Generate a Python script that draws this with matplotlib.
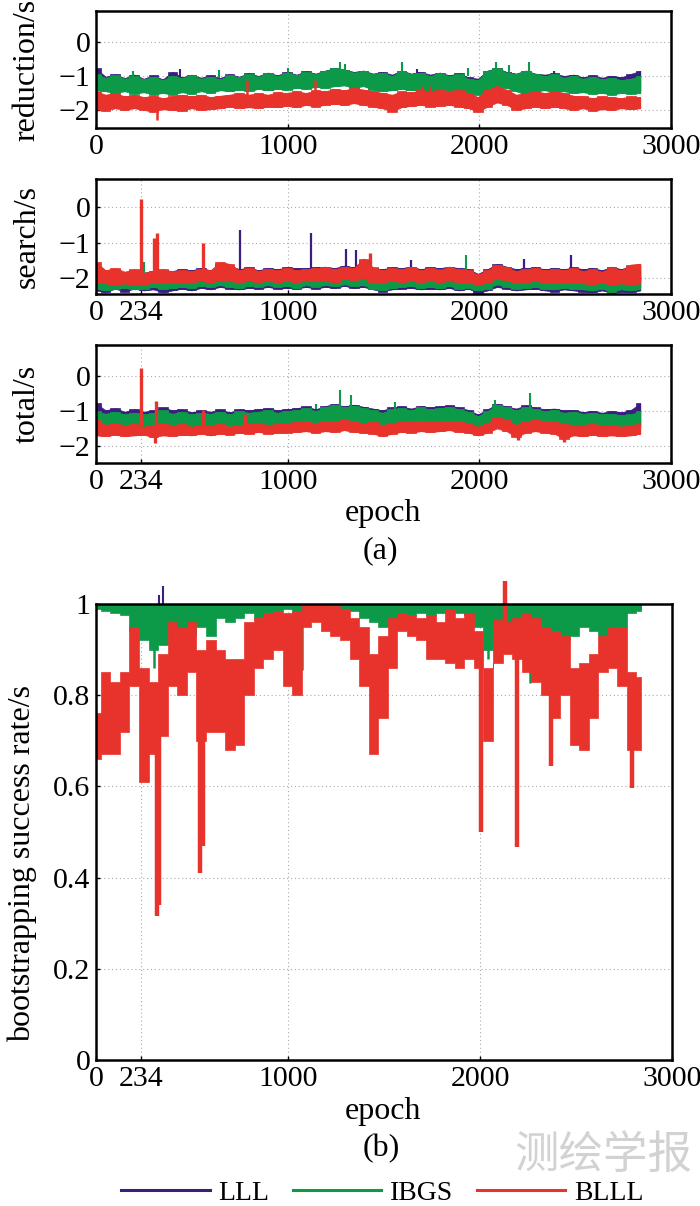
import numpy as np
import matplotlib
matplotlib.use('Agg')
import matplotlib.pyplot as plt
from matplotlib.lines import Line2D

plt.rcParams['font.family'] = ['Liberation Serif', 'DejaVu Serif']
plt.rcParams['axes.unicode_minus'] = True

# ---------------- data (log10 seconds), samples every ~50 epochs ----------------
# reduction
L1_hi = [-0.78,-1.02,-0.95,-1.06,-0.96,-1.08,-0.98,-1.1,-0.88,-1.04,
         -0.96,-1.05,-0.98,-1.06,-0.95,-1.02,-0.92,-1.0,-0.9,-0.98,
         -0.88,-0.96,-0.86,-0.93,-0.84,-0.77,-0.81,-0.88,-0.84,-0.93,
         -0.88,-0.96,-0.84,-0.93,-0.88,-0.96,-0.9,-0.98,-0.92,-1.04,
         -1.08,-0.84,-0.77,-0.88,-0.93,-0.84,-0.93,-0.96,-0.92,-1.0,
         -0.96,-1.04,-0.98,-1.05,-1.0,-1.04,-0.94,-0.85]
L1_lo = [-1.38,-1.42,-1.46,-1.42,-1.48,-1.45,-1.5,-1.46,-1.5,-1.45,
         -1.48,-1.42,-1.46,-1.4,-1.42,-1.38,-1.42,-1.36,-1.4,-1.36,
         -1.38,-1.33,-1.36,-1.3,-1.33,-1.28,-1.26,-1.33,-1.28,-1.38,
         -1.42,-1.4,-1.36,-1.4,-1.38,-1.42,-1.36,-1.4,-1.42,-1.46,
         -1.5,-1.38,-1.28,-1.33,-1.42,-1.5,-1.42,-1.4,-1.45,-1.42,
         -1.46,-1.45,-1.48,-1.46,-1.5,-1.46,-1.48,-1.46]
G1_hi = [-0.95,-1.05,-0.98,-1.08,-1.0,-1.1,-1.02,-1.12,-1.0,-1.06,
         -0.98,-1.08,-1.02,-1.1,-0.98,-1.04,-0.95,-1.02,-0.92,-1.0,
         -0.9,-0.98,-0.88,-0.95,-0.85,-0.78,-0.82,-0.9,-0.85,-0.95,
         -0.9,-1.0,-0.85,-0.95,-0.9,-1.0,-0.92,-1.0,-0.95,-1.08,
         -1.12,-0.85,-0.78,-0.9,-0.95,-0.85,-0.95,-1.0,-0.95,-1.05,
         -1.0,-1.08,-1.02,-1.1,-1.05,-1.12,-1.08,-1.0]
G1_lo = [-1.4,-1.45,-1.5,-1.45,-1.52,-1.48,-1.55,-1.5,-1.55,-1.48,
         -1.52,-1.45,-1.5,-1.42,-1.45,-1.4,-1.45,-1.38,-1.42,-1.38,
         -1.4,-1.35,-1.38,-1.32,-1.35,-1.3,-1.28,-1.35,-1.3,-1.4,
         -1.45,-1.42,-1.38,-1.42,-1.4,-1.45,-1.38,-1.42,-1.45,-1.5,
         -1.55,-1.4,-1.3,-1.35,-1.45,-1.55,-1.45,-1.42,-1.48,-1.45,
         -1.5,-1.48,-1.52,-1.5,-1.55,-1.5,-1.52,-1.5]
R1_hi = [-1.45,-1.55,-1.5,-1.6,-1.55,-1.62,-1.58,-1.65,-1.6,-1.55,
         -1.6,-1.55,-1.62,-1.58,-1.55,-1.5,-1.55,-1.5,-1.55,-1.48,
         -1.5,-1.45,-1.5,-1.42,-1.45,-1.38,-1.42,-1.35,-1.4,-1.45,
         -1.5,-1.55,-1.45,-1.48,-1.42,-1.45,-1.4,-1.45,-1.42,-1.5,
         -1.62,-1.4,-1.32,-1.4,-1.55,-1.5,-1.45,-1.5,-1.45,-1.5,
         -1.58,-1.6,-1.65,-1.6,-1.62,-1.65,-1.6,-1.62]
R1_lo = [-1.98,-2.02,-1.95,-2.0,-1.95,-2.0,-2.05,-1.98,-2.0,-2.02,
         -1.95,-2.0,-1.98,-1.95,-1.9,-1.95,-1.92,-1.95,-1.9,-1.92,
         -1.88,-1.92,-1.85,-1.9,-1.85,-1.82,-1.85,-1.8,-1.85,-1.9,
         -1.95,-2.05,-1.92,-1.88,-1.85,-1.9,-1.88,-1.85,-1.9,-1.95,
         -2.05,-1.9,-1.78,-1.85,-2.0,-1.95,-1.9,-1.95,-1.9,-1.95,
         -2.0,-1.95,-2.02,-1.98,-2.0,-1.95,-1.98,-1.95]
# reduction spikes: epoch, from, to
L1_sp_x = [440, 1677, 2390]
L1_sp_a = [-1.05, -1.0, -1.05]
L1_sp_b = [-0.79, -0.79, -0.85]
G1_sp_x = [195, 640, 1000, 1275, 1300, 1594, 1940, 2086, 2155, 2258]
G1_sp_a = [-1.05, -1.05, -0.95, -0.9, -0.9, -0.95, -1.0, -0.85, -0.9, -0.9]
G1_sp_b = [-0.84, -0.82, -0.77, -0.58, -0.65, -0.58, -0.77, -0.58, -0.68, -0.6]
R1_sp_x = [318, 788, 1145, 1700, 1740, 2090]
R1_sp_a = [-1.95, -1.55, -1.45, -1.45, -1.45, -1.4]
R1_sp_b = [-2.3, -1.12, -1.12, -1.3, -1.3, -1.28]

# search
L2_hi = [-1.7,-1.8,-1.75,-1.85,-1.78,-1.85,-1.8,-1.78,-1.8,-1.75,
         -1.78,-1.72,-1.78,-1.6,-1.65,-1.75,-1.7,-1.78,-1.72,-1.75,
         -1.7,-1.72,-1.72,-1.7,-1.68,-1.72,-1.65,-1.7,-1.5,-1.72,
         -1.75,-1.7,-1.72,-1.68,-1.75,-1.7,-1.72,-1.68,-1.72,-1.75,
         -1.88,-1.75,-1.6,-1.68,-1.75,-1.72,-1.7,-1.75,-1.72,-1.75,
         -1.7,-1.75,-1.72,-1.78,-1.68,-1.75,-1.65,-1.62]
L2_lo = [-2.35,-2.4,-2.3,-2.38,-2.3,-2.35,-2.32,-2.4,-2.35,-2.3,
         -2.35,-2.28,-2.32,-2.25,-2.3,-2.32,-2.28,-2.3,-2.25,-2.3,
         -2.28,-2.3,-2.25,-2.3,-2.25,-2.28,-2.22,-2.28,-2.25,-2.32,
         -2.38,-2.32,-2.3,-2.28,-2.32,-2.3,-2.32,-2.28,-2.35,-2.3,
         -2.42,-2.35,-2.25,-2.3,-2.35,-2.32,-2.3,-2.35,-2.38,-2.32,
         -2.35,-2.38,-2.4,-2.35,-2.42,-2.38,-2.4,-2.35]
G2_hi = [-1.85,-1.9,-1.8,-1.88,-1.82,-1.9,-1.85,-1.88,-1.8,-1.85,
         -1.82,-1.88,-1.85,-1.8,-1.85,-1.88,-1.8,-1.85,-1.82,-1.85,
         -1.8,-1.85,-1.82,-1.8,-1.85,-1.8,-1.82,-1.78,-1.8,-1.82,
         -1.85,-1.8,-1.82,-1.78,-1.82,-1.8,-1.78,-1.75,-1.8,-1.82,
         -1.95,-1.85,-1.75,-1.8,-1.85,-1.82,-1.8,-1.85,-1.8,-1.85,
         -1.82,-1.88,-1.85,-1.88,-1.82,-1.85,-1.85,-1.8]
G2_lo = [-2.3,-2.35,-2.3,-2.28,-2.32,-2.3,-2.25,-2.3,-2.28,-2.25,
         -2.28,-2.22,-2.25,-2.2,-2.25,-2.28,-2.22,-2.25,-2.2,-2.25,
         -2.22,-2.28,-2.2,-2.25,-2.2,-2.22,-2.18,-2.22,-2.2,-2.3,
         -2.35,-2.28,-2.25,-2.22,-2.28,-2.25,-2.28,-2.22,-2.3,-2.28,
         -2.35,-2.3,-2.18,-2.25,-2.3,-2.28,-2.25,-2.3,-2.32,-2.28,
         -2.3,-2.32,-2.35,-2.3,-2.38,-2.32,-2.35,-2.3]
R2_hi = [-1.55,-1.78,-1.72,-1.82,-1.75,-1.85,-1.8,-1.75,-1.82,-1.78,
         -1.8,-1.75,-1.78,-1.55,-1.6,-1.78,-1.72,-1.8,-1.75,-1.78,
         -1.72,-1.78,-1.75,-1.72,-1.7,-1.75,-1.68,-1.72,-1.45,-1.7,
         -1.78,-1.72,-1.75,-1.7,-1.78,-1.72,-1.76,-1.7,-1.75,-1.78,
         -1.9,-1.78,-1.62,-1.7,-1.8,-1.75,-1.72,-1.78,-1.74,-1.78,
         -1.72,-1.8,-1.75,-1.82,-1.7,-1.78,-1.62,-1.6]
R2_lo = [-2.1,-2.15,-2.2,-2.15,-2.2,-2.18,-2.12,-2.15,-2.1,-2.12,
         -2.1,-2.08,-2.12,-2.05,-2.08,-2.1,-2.05,-2.1,-2.08,-2.1,
         -2.08,-2.1,-2.05,-2.08,-2.05,-2.1,-2.02,-2.05,-2.0,-2.1,
         -2.12,-2.08,-2.1,-2.05,-2.1,-2.08,-2.1,-2.05,-2.1,-2.12,
         -2.2,-2.12,-2.0,-2.05,-2.12,-2.1,-2.08,-2.12,-2.15,-2.1,
         -2.12,-2.15,-2.18,-2.12,-2.2,-2.15,-2.18,-2.15]
L2_sp_x = [753, 1123, 1302, 1354, 1641, 2232, 2478]
L2_sp_a = [-1.8, -1.8, -1.75, -1.75, -1.75, -1.8, -1.75]
L2_sp_b = [-0.65, -0.72, -1.18, -1.2, -1.5, -1.45, -1.35]
G2_sp_x = [248, 1929]
G2_sp_a = [-1.85, -1.85]
G2_sp_b = [-1.55, -1.35]
R2_sp_x = [234, 305, 318, 558, 1432]
R2_sp_a = [-1.85, -1.85, -1.85, -1.85, -1.75]
R2_sp_b = [0.22, -0.87, -0.73, -1.02, -1.3]

# total
L3_hi = [-0.78,-0.98,-0.92,-1.02,-0.95,-1.02,-0.98,-0.9,-0.98,-0.95,
         -1.04,-0.98,-1.02,-0.95,-1.04,-0.95,-0.98,-0.95,-0.92,-0.98,
         -0.95,-0.92,-0.87,-0.95,-0.86,-0.8,-0.87,-0.82,-0.88,-0.93,
         -0.98,-0.9,-0.87,-0.93,-0.86,-0.9,-0.87,-0.84,-0.9,-0.97,
         -1.1,-0.95,-0.8,-0.87,-0.93,-0.84,-0.9,-0.95,-0.93,-0.98,
         -0.97,-1.03,-1.0,-1.05,-1.0,-1.04,-0.97,-0.78]
L3_lo = [-1.4,-1.42,-1.45,-1.42,-1.45,-1.42,-1.4,-1.42,-1.45,-1.42,
         -1.42,-1.4,-1.42,-1.38,-1.4,-1.38,-1.4,-1.36,-1.38,-1.36,
         -1.36,-1.33,-1.36,-1.3,-1.33,-1.28,-1.3,-1.26,-1.33,-1.4,
         -1.45,-1.38,-1.36,-1.33,-1.36,-1.33,-1.36,-1.33,-1.38,-1.42,
         -1.48,-1.4,-1.28,-1.33,-1.4,-1.36,-1.38,-1.4,-1.42,-1.4,
         -1.42,-1.4,-1.42,-1.4,-1.42,-1.4,-1.42,-1.4]
G3_hi = [-1.0,-1.08,-1.02,-1.1,-1.05,-1.1,-1.05,-0.98,-1.08,-1.02,
         -1.1,-1.05,-1.08,-1.02,-1.1,-1.0,-1.05,-1.02,-0.98,-1.05,
         -1.0,-0.98,-0.92,-1.0,-0.9,-0.82,-0.9,-0.85,-0.92,-0.98,
         -1.05,-0.95,-0.92,-0.98,-0.9,-0.95,-0.92,-0.88,-0.95,-1.02,
         -1.15,-1.0,-0.82,-0.9,-0.98,-0.88,-0.95,-1.0,-0.98,-1.05,
         -1.02,-1.08,-1.05,-1.1,-1.08,-1.12,-1.1,-1.0]
G3_lo = [-1.42,-1.45,-1.48,-1.45,-1.48,-1.45,-1.42,-1.45,-1.48,-1.45,
         -1.45,-1.42,-1.45,-1.4,-1.42,-1.4,-1.42,-1.38,-1.4,-1.38,
         -1.38,-1.35,-1.38,-1.32,-1.35,-1.3,-1.32,-1.28,-1.35,-1.42,
         -1.48,-1.4,-1.38,-1.35,-1.38,-1.35,-1.38,-1.35,-1.4,-1.45,
         -1.5,-1.42,-1.3,-1.35,-1.42,-1.38,-1.4,-1.42,-1.45,-1.42,
         -1.45,-1.42,-1.45,-1.42,-1.45,-1.42,-1.45,-1.42]
R3_hi = [-1.25,-1.4,-1.35,-1.42,-1.38,-1.45,-1.4,-1.35,-1.42,-1.38,
         -1.45,-1.4,-1.42,-1.38,-1.45,-1.4,-1.38,-1.35,-1.4,-1.38,
         -1.35,-1.32,-1.3,-1.35,-1.28,-1.3,-1.25,-1.3,-1.35,-1.32,
         -1.4,-1.35,-1.3,-1.32,-1.28,-1.32,-1.3,-1.28,-1.3,-1.35,
         -1.45,-1.35,-1.18,-1.25,-1.4,-1.3,-1.25,-1.3,-1.32,-1.38,
         -1.4,-1.42,-1.38,-1.42,-1.4,-1.45,-1.4,-1.38]
R3_lo = [-1.7,-1.72,-1.68,-1.72,-1.7,-1.68,-1.75,-1.7,-1.72,-1.68,
         -1.7,-1.65,-1.7,-1.65,-1.68,-1.62,-1.65,-1.6,-1.65,-1.62,
         -1.62,-1.6,-1.58,-1.62,-1.58,-1.6,-1.55,-1.6,-1.62,-1.65,
         -1.72,-1.65,-1.6,-1.62,-1.58,-1.6,-1.58,-1.55,-1.6,-1.62,
         -1.7,-1.62,-1.5,-1.58,-1.75,-1.62,-1.58,-1.62,-1.65,-1.8,
         -1.7,-1.72,-1.68,-1.72,-1.7,-1.72,-1.7,-1.65]
G3_sp_x = [1150, 1272, 1330, 1560, 2084, 2262]
G3_sp_a = [-0.95, -0.9, -0.9, -0.95, -0.9, -0.95]
G3_sp_b = [-0.8, -0.4, -0.55, -0.75, -0.69, -0.48]
R3_sp_x = [234, 315, 560, 776, 310, 2200, 2440]
R3_sp_a = [-1.4, -1.4, -1.4, -1.4, -1.65, -1.65, -1.65]
R3_sp_b = [0.24, -0.72, -0.97, -1.1, -1.92, -1.83, -1.9]

# bootstrapping success rate
L4_hi = [1.0]*58
L4_lo = [0.995,0.99,0.99,0.985,0.975,0.965,0.96,0.965,0.97,0.975,
         0.98,0.985,0.98,0.985,0.99,0.985,0.99,0.985,0.99,0.99,
         0.995,0.99,0.995,0.995,0.998,0.998,0.995,0.99,0.985,0.98,
         0.98,0.985,0.985,0.99,0.99,0.985,0.99,0.99,0.985,0.985,
         0.98,0.97,0.975,0.97,0.965,0.96,0.965,0.97,0.975,0.97,
         0.975,0.98,0.975,0.97,0.975,0.98,0.99,0.99]
G4_hi = [1.0]*58
G4_lo = [0.99,0.985,0.98,0.975,0.94,0.92,0.9,0.91,0.95,0.94,
         0.93,0.95,0.93,0.97,0.96,0.97,0.98,0.97,0.98,0.985,
         0.99,0.96,0.98,0.99,0.995,0.995,0.99,0.985,0.97,0.96,
         0.95,0.96,0.97,0.975,0.98,0.975,0.98,0.985,0.98,0.975,
         0.95,0.9,0.95,0.94,0.93,0.92,0.93,0.93,0.94,0.92,
         0.93,0.95,0.94,0.93,0.92,0.95,0.98,0.985]
R4_hi = [0.76,0.85,0.83,0.85,0.95,0.86,0.83,0.89,0.96,0.95,
         0.96,0.90,0.92,0.90,0.88,0.88,0.96,0.97,0.98,0.985,
         0.98,0.985,1.0,1.0,1.0,0.995,0.99,0.97,0.95,0.89,
         0.93,0.97,0.98,0.975,0.97,0.975,0.96,0.99,0.97,0.98,
         0.94,0.86,0.965,0.96,0.97,0.98,0.97,0.95,0.94,0.93,
         0.86,0.87,0.89,0.93,0.95,0.95,0.85,0.84]
R4_lo = [0.66,0.67,0.67,0.72,0.82,0.61,0.67,0.71,0.82,0.80,
         0.85,0.70,0.72,0.72,0.68,0.69,0.80,0.86,0.88,0.90,
         0.82,0.80,0.95,0.96,0.94,0.93,0.92,0.88,0.82,0.67,
         0.75,0.86,0.94,0.93,0.92,0.88,0.88,0.87,0.86,0.88,
         0.86,0.70,0.87,0.89,0.88,0.85,0.83,0.80,0.75,0.80,
         0.69,0.68,0.75,0.85,0.86,0.82,0.68,0.68]
L4_sp_x = [330, 350]
L4_sp_a = [0.98, 0.97]
L4_sp_b = [1.02, 1.04]
G4_sp_x = [300, 1075, 2043, 2262, 2700]
G4_sp_a = [0.95, 0.97, 0.95, 0.93, 0.95]
G4_sp_b = [0.86, 0.855, 0.88, 0.826, 0.9]
R4_sp_x = [318, 330, 543, 556, 2006, 2193, 2370, 2790, 2130]
R4_sp_a = [0.75, 0.75, 0.8, 0.8, 0.9, 0.9, 0.85, 0.8, 0.9]
R4_sp_b = [0.315, 0.34, 0.41, 0.47, 0.50, 0.468, 0.645, 0.596, 1.05]

series_names = ['LLL', 'IBGS', 'BLLL']
C_LLL, C_IBGS, C_BLLL = '#3b1e80', '#0d9a48', '#e8322c'
colors = [C_LLL, C_IBGS, C_BLLL]
LAST_EPOCH = 2840

# ---------------- figure ----------------
W, H = 700, 1206
fig = plt.figure(figsize=(W/100, H/100), dpi=100)

def px_axes(l, t, r, b):
    return fig.add_axes([l/W, 1-b/H, (r-l)/W, (b-t)/H])

def band(ax, lo, hi, color, z, mode='mix'):
    x = np.linspace(0, LAST_EPOCH, len(lo))
    if mode in ('mix', 'step'):
        ax.fill_between(x, lo, hi, step='mid', facecolor=color, edgecolor=color,
                        lw=0.5, zorder=z)
    if mode in ('mix', 'line'):
        ax.fill_between(x, lo, hi, facecolor=color, edgecolor=color,
                        lw=0.5, zorder=z)

def spikes(ax, xs, a, b, color, lw, z):
    ax.vlines(xs, a, b, colors=color, lw=lw, zorder=z, clip_on=False)

TICK_FS = 21.5
LAB_FS = 23

def style(ax, ylim, yticks, xticks, ylab, labx, laby=0.5):
    ax.set_xlim(0, 3000)
    ax.set_ylim(*ylim)
    ax.set_yticks(yticks)
    ax.set_xticks(xticks)
    ax.set_xticklabels([str(t) for t in xticks])
    ax.grid(True, linestyle=(0, (1, 2.5)), color='#aaaaaa', lw=0.8, zorder=0)
    ax.set_axisbelow(True)
    for s in ax.spines.values():
        s.set_linewidth(1.8)
        s.set_zorder(20)
    ax.tick_params(direction='in', length=3, width=1, labelsize=TICK_FS, pad=4)
    ax.set_ylabel(ylab, fontsize=LAB_FS)
    ax.yaxis.set_label_coords(labx, laby)

ax1 = px_axes(96, 11, 671, 128)
band(ax1, L1_lo, L1_hi, C_LLL, 2)
spikes(ax1, L1_sp_x, L1_sp_a, L1_sp_b, C_LLL, 1.5, 2)
band(ax1, G1_lo, G1_hi, C_IBGS, 3)
spikes(ax1, G1_sp_x, G1_sp_a, G1_sp_b, C_IBGS, 1.5, 3)
band(ax1, R1_lo, R1_hi, C_BLLL, 4)
spikes(ax1, R1_sp_x, R1_sp_a, R1_sp_b, C_BLLL, 1.8, 4)
style(ax1, (-2.53, 0.91), [-2, -1, 0], [0, 1000, 2000, 3000], 'reduction/s', -0.095)

ax2 = px_axes(96, 179, 671, 294)
band(ax2, L2_lo, L2_hi, C_LLL, 2)
spikes(ax2, L2_sp_x, L2_sp_a, L2_sp_b, C_LLL, 1.6, 2)
band(ax2, G2_lo, G2_hi, C_IBGS, 3)
spikes(ax2, G2_sp_x, G2_sp_a, G2_sp_b, C_IBGS, 1.5, 3)
band(ax2, R2_lo, R2_hi, C_BLLL, 4)
spikes(ax2, R2_sp_x, R2_sp_a, R2_sp_b, C_BLLL, 2.4, 4)
style(ax2, (-2.45, 0.79), [-2, -1, 0], [0, 234, 1000, 2000, 3000], 'search/s', -0.095)

ax3 = px_axes(96, 345, 671, 463)
band(ax3, L3_lo, L3_hi, C_LLL, 2)
band(ax3, G3_lo, G3_hi, C_IBGS, 3)
spikes(ax3, G3_sp_x, G3_sp_a, G3_sp_b, C_IBGS, 1.5, 3)
band(ax3, R3_lo, R3_hi, C_BLLL, 4)
spikes(ax3, R3_sp_x, R3_sp_a, R3_sp_b, C_BLLL, 2.4, 4)
style(ax3, (-2.49, 0.89), [-2, -1, 0], [0, 234, 1000, 2000, 3000], 'total/s', -0.095)

ax4 = px_axes(96, 604, 672, 1060)
band(ax4, L4_lo, L4_hi, C_LLL, 2, 'step')
spikes(ax4, L4_sp_x, L4_sp_a, L4_sp_b, C_LLL, 1.5, 2)
band(ax4, G4_lo, G4_hi, C_IBGS, 3, 'step')
spikes(ax4, G4_sp_x, G4_sp_a, G4_sp_b, C_IBGS, 1.8, 3)
band(ax4, R4_lo, R4_hi, C_BLLL, 4, 'step')
spikes(ax4, R4_sp_x, R4_sp_a, R4_sp_b, C_BLLL, 3.2, 4)
style(ax4, (0, 1), [0, 0.2, 0.4, 0.6, 0.8, 1.0], [0, 234, 1000, 2000, 3000],
      'bootstrapping success rate/s', -0.102, 0.43)
ax4.set_yticklabels(['0', '0.2', '0.4', '0.6', '0.8', '1'])

def ftext(x, y, s, **kw):
    fig.text(x/W, 1-y/H, s, ha='center', va='center', **kw)

ftext(383, 514, 'epoch', fontsize=LAB_FS)
ftext(380, 551, '(a)', fontsize=LAB_FS)
ftext(383, 1111, 'epoch', fontsize=LAB_FS)
ftext(381, 1149, '(b)', fontsize=LAB_FS)
ftext(603, 1155, '测绘学报', fontsize=32, color='#d2d2d2',
      family=['Noto Sans CJK SC', 'DejaVu Sans'], fontweight='light')

handles = [Line2D([0], [0], color=c, lw=2.2) for c in colors]
fig.legend(handles, series_names, loc='center', bbox_to_anchor=(382/W, 1-1193/H),
           ncol=3, frameon=False, fontsize=20, handlelength=3.2,
           handletextpad=0.3, columnspacing=0.85, borderpad=0, borderaxespad=0)

fig.savefig('out.png', dpi=100)
